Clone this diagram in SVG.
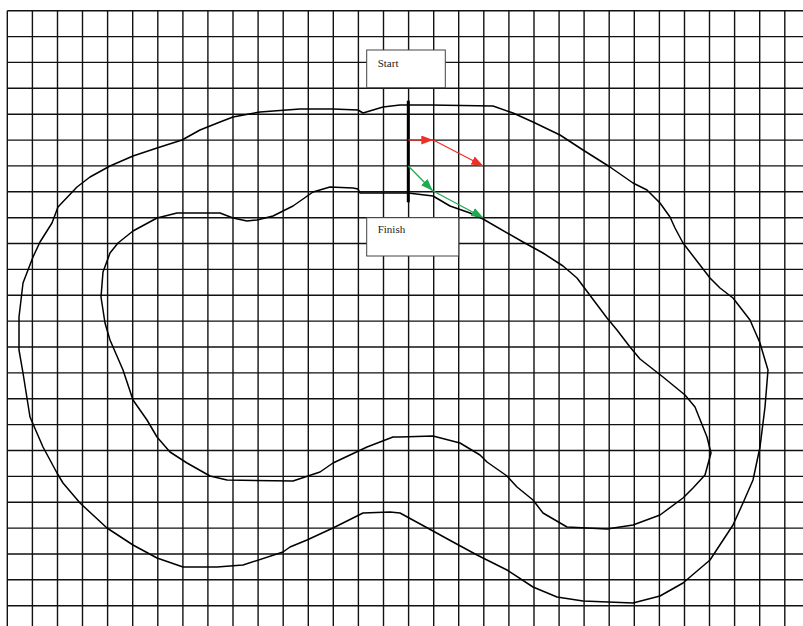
<svg xmlns="http://www.w3.org/2000/svg" width="803" height="626" viewBox="0 0 803 626">
<style>
.grid line{stroke:#111;stroke-width:1.4}
.track{fill:none;stroke:#000;stroke-width:1.5;stroke-linejoin:round}
.box{fill:#fff;stroke:#444;stroke-width:1}
.lbl{font-family:"Liberation Serif","DejaVu Serif",serif;font-size:11px;fill:#222}
.red{stroke:#ec3126;stroke-width:1.3;fill:none}
.green{stroke:#22a853;stroke-width:1.3;fill:none}
</style>
<defs>
<marker id="ahR" markerUnits="userSpaceOnUse" markerWidth="13" markerHeight="10" refX="12" refY="4.5" orient="auto"><path d="M0,0 L12,4.5 L0,9 Z" fill="#ec3126"/></marker>
<marker id="ahG" markerUnits="userSpaceOnUse" markerWidth="13" markerHeight="10" refX="12" refY="4.5" orient="auto"><path d="M0,0 L12,4.5 L0,9 Z" fill="#22a853"/></marker>
</defs>
<rect width="803" height="626" fill="#fff"/>
<g class="grid" id="grid">
<line x1="7.3" y1="10.7" x2="7.3" y2="626"/><line x1="32.4" y1="10.7" x2="32.4" y2="626"/><line x1="57.5" y1="10.7" x2="57.5" y2="626"/><line x1="82.5" y1="10.7" x2="82.5" y2="626"/><line x1="107.6" y1="10.7" x2="107.6" y2="626"/><line x1="132.7" y1="10.7" x2="132.7" y2="626"/><line x1="157.8" y1="10.7" x2="157.8" y2="626"/><line x1="182.9" y1="10.7" x2="182.9" y2="626"/><line x1="207.9" y1="10.7" x2="207.9" y2="626"/><line x1="233.0" y1="10.7" x2="233.0" y2="626"/><line x1="258.1" y1="10.7" x2="258.1" y2="626"/><line x1="283.2" y1="10.7" x2="283.2" y2="626"/><line x1="308.3" y1="10.7" x2="308.3" y2="626"/><line x1="333.3" y1="10.7" x2="333.3" y2="626"/><line x1="358.4" y1="10.7" x2="358.4" y2="626"/><line x1="383.5" y1="10.7" x2="383.5" y2="626"/><line x1="408.6" y1="10.7" x2="408.6" y2="626"/><line x1="433.7" y1="10.7" x2="433.7" y2="626"/><line x1="458.7" y1="10.7" x2="458.7" y2="626"/><line x1="483.8" y1="10.7" x2="483.8" y2="626"/><line x1="508.9" y1="10.7" x2="508.9" y2="626"/><line x1="534.0" y1="10.7" x2="534.0" y2="626"/><line x1="559.1" y1="10.7" x2="559.1" y2="626"/><line x1="584.1" y1="10.7" x2="584.1" y2="626"/><line x1="609.2" y1="10.7" x2="609.2" y2="626"/><line x1="634.3" y1="10.7" x2="634.3" y2="626"/><line x1="659.4" y1="10.7" x2="659.4" y2="626"/><line x1="684.5" y1="10.7" x2="684.5" y2="626"/><line x1="709.5" y1="10.7" x2="709.5" y2="626"/><line x1="734.6" y1="10.7" x2="734.6" y2="626"/><line x1="759.7" y1="10.7" x2="759.7" y2="626"/><line x1="784.8" y1="10.7" x2="784.8" y2="626"/>
<line x1="7.3" y1="10.7" x2="803" y2="10.7"/><line x1="7.3" y1="36.6" x2="803" y2="36.6"/><line x1="7.3" y1="62.4" x2="803" y2="62.4"/><line x1="7.3" y1="88.3" x2="803" y2="88.3"/><line x1="7.3" y1="114.2" x2="803" y2="114.2"/><line x1="7.3" y1="140.1" x2="803" y2="140.1"/><line x1="7.3" y1="165.9" x2="803" y2="165.9"/><line x1="7.3" y1="191.8" x2="803" y2="191.8"/><line x1="7.3" y1="217.7" x2="803" y2="217.7"/><line x1="7.3" y1="243.5" x2="803" y2="243.5"/><line x1="7.3" y1="269.4" x2="803" y2="269.4"/><line x1="7.3" y1="295.3" x2="803" y2="295.3"/><line x1="7.3" y1="321.1" x2="803" y2="321.1"/><line x1="7.3" y1="347.0" x2="803" y2="347.0"/><line x1="7.3" y1="372.9" x2="803" y2="372.9"/><line x1="7.3" y1="398.8" x2="803" y2="398.8"/><line x1="7.3" y1="424.6" x2="803" y2="424.6"/><line x1="7.3" y1="450.5" x2="803" y2="450.5"/><line x1="7.3" y1="476.4" x2="803" y2="476.4"/><line x1="7.3" y1="502.2" x2="803" y2="502.2"/><line x1="7.3" y1="528.1" x2="803" y2="528.1"/><line x1="7.3" y1="554.0" x2="803" y2="554.0"/><line x1="7.3" y1="579.8" x2="803" y2="579.8"/><line x1="7.3" y1="605.7" x2="803" y2="605.7"/>
</g>
<g id="track">
<path class="track" d="M400,105 L430,105 493,106 513,113 533,122 560,135 583,150 610,167 633,183 647,190 660,203 670,217 675,228 683,243 710,278 720,288 733,298 750,320 760,343 765,360 768,370 765,407 760,447 753,480 743,503 733,525 710,560 683,583 660,596 633,603 583,601 557,597 533,587 507,570 477,555 453,542 433,531 400,513 390,512 363,513 333,528 307,540 290,547 283,552 243,565 217,567 183,567 157,558 133,545 107,528 80,503 63,483 57,473 43,447 30,417 23,373 19,350 19,317 23,283 33,257 40,242 52,223 58,207 77,187 90,177 110,166 133,156 157,148 182,140 200,130 220,122 233,117 260,112 300,109 333,109 358,110 363,113 383,107 Z"/>
<path class="track" d="M408,193 L433,196 450,206 470,213 483,219 523,242 543,253 563,266 577,278 592,298 607,318 617,330 630,347 640,359 663,377 685,395 695,407 707,437 711,453 705,475 693,488 683,498 660,515 633,525 607,529 567,527 543,513 533,500 517,487 507,476 487,462 480,455 460,443 433,436 400,437 393,437 367,447 333,463 320,472 293,481 227,480 210,476 187,463 170,452 157,437 147,420 133,400 123,370 110,340 105,323 101,297 103,272 110,253 118,243 133,231 157,218 177,213 220,213 233,218 247,221 257,220 273,216 293,206 313,192 330,187 353,188 358,189 360,193 Z"/>
<line id="startline" x1="408.3" y1="100.7" x2="408.3" y2="202.3" stroke="#000" stroke-width="3"/>
</g>
<g id="connectors">
<path class="red" d="M408.3,140 L433.3,140" marker-end="url(#ahR)"/>
<path class="red" d="M433.3,140 L483.3,166" marker-end="url(#ahR)"/>
<path class="green" d="M408.3,166 L432.7,190.7" marker-end="url(#ahG)"/>
<path class="green" d="M432.7,190.7 L483.3,217.7" marker-end="url(#ahG)"/>
</g>
<g id="start">
<rect class="box" x="366.7" y="50" width="78.6" height="37.7"/>
<text class="lbl" x="377.7" y="66.7">Start</text>
</g>
<g id="finish">
<rect class="box" x="366.7" y="217.7" width="92" height="38.3"/>
<text class="lbl" x="377.7" y="233.3">Finish</text>
</g>
</svg>
